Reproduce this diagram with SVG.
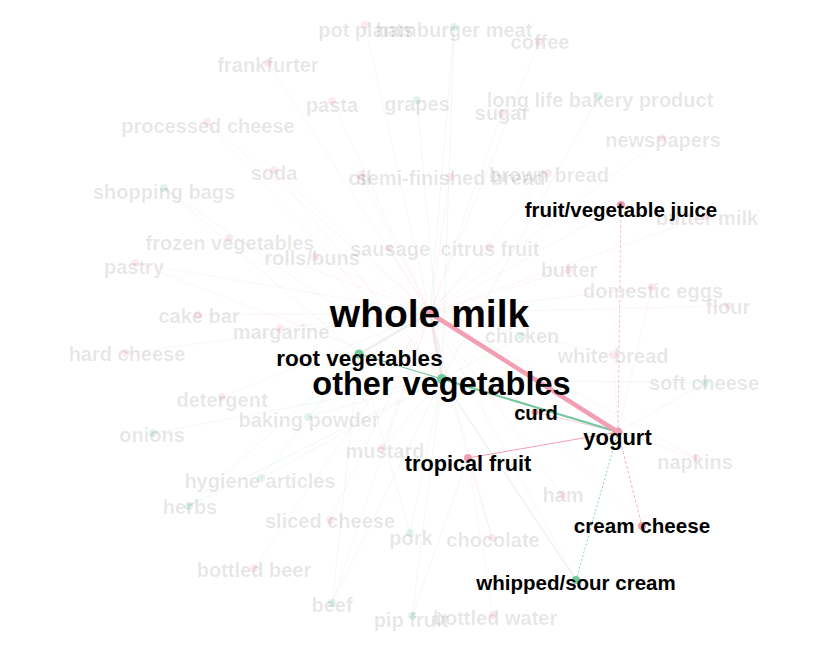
<svg xmlns="http://www.w3.org/2000/svg" width="833" height="658" viewBox="0 0 833 658">
<style>
.f{font-family:"Liberation Sans",Arial,sans-serif;font-weight:bold;font-size:20px;fill:#000;fill-opacity:0.1;text-anchor:middle}
.b{font-family:"Liberation Sans",Arial,sans-serif;font-weight:bold;fill:#000;text-anchor:middle}
.dp{fill:#f29fb3}
.dg{fill:#72c89e}
.fd{opacity:0.2}
.ep{stroke:#f29fb3;stroke-opacity:0.16;stroke-width:0.7;fill:none}
.eg{stroke:#72c89e;stroke-opacity:0.16;stroke-width:0.7;fill:none}
</style>
<rect width="833" height="658" fill="#fff"/>
<g id="edges">
<path class="ep" d="M365,25L430,313M539,42L430,313M268,63L430,313M332,101L430,313M502,113L430,313M207,122L430,313M662,138L430,313M274,170L430,313M361,175L430,313M450,177L430,313M548,173L430,313M706,216L430,313M229,238L430,313M315,257L430,313M389,248L430,313M490,247L430,313M135,263L430,313M569,270L430,313M652,287L430,313M728,306L430,313M198,315L430,313M280,328L430,313M126,353L430,313M613,355L430,313M222,397L430,313M696,458L430,313M382,448L430,313M562,495L430,313M330,520L430,313M492,538L430,313M254,568L430,313M493,615L468,458M332,603L430,313M621,205L430,313M642,526L430,313M576,580L430,313M468,458L430,313M274,170L442,379M207,122L442,379M135,263L442,379M315,257L442,379M492,538L468,458M696,458L618,432M613,355L618,432M652,287L618,432"/>
<path class="eg" d="M454,27L430,313M454,27L442,379M417,100L442,379M599,96L442,379M164,188L442,379M522,336L442,379M705,383L442,379M308,417L442,379M153,433L442,379M261,478L442,379M189,506L442,379M410,533L442,379M332,603L359,354M332,603L442,379M412,616L442,379M412,616L468,458M261,478L359,354M189,506L359,354M164,188L359,354M382,448L442,379M410,533L359,354M705,383L618,432"/>
<line x1="430" y1="313" x2="442" y2="379" stroke="#d9b8bf" stroke-opacity="0.35" stroke-width="3"/>
<line x1="359" y1="354" x2="430" y2="313" stroke="#c8d8cf" stroke-opacity="0.35" stroke-width="2.5"/>
<line x1="442" y1="379" x2="576" y2="580" stroke="#72c89e" stroke-opacity="0.4" stroke-width="0.7"/>
<line x1="468" y1="458" x2="618" y2="432" stroke="#f29fb3" stroke-width="1"/>
<line x1="535" y1="412" x2="618" y2="432" stroke="#f29fb3" stroke-opacity="0.7" stroke-width="0.8"/>
<line x1="621" y1="205" x2="618" y2="432" stroke="#f29fb3" stroke-opacity="0.8" stroke-width="0.8" stroke-dasharray="3,2"/>
<line x1="618" y1="432" x2="642" y2="526" stroke="#f29fb3" stroke-width="0.8" stroke-dasharray="3,2"/>
<line x1="618" y1="432" x2="576" y2="580" stroke="#72c89e" stroke-width="0.8" stroke-dasharray="2,2"/>
<line x1="359" y1="354" x2="442" y2="379" stroke="#72c89e" stroke-width="1.2"/>
<line x1="442" y1="379" x2="618" y2="432" stroke="#72c89e" stroke-width="2"/>
<line x1="430" y1="313" x2="618" y2="432" stroke="#f29fb3" stroke-width="4.5"/>
</g>
<g id="n-pot-plants"><circle class="dp fd" cx="365" cy="25" r="4"/><text class="f" x="366" y="37">pot plants</text></g>
<g id="n-hamburger-meat"><circle class="dg fd" cx="454" cy="27" r="4"/><text class="f" x="454" y="37">hamburger meat</text></g>
<g id="n-coffee"><circle class="dp fd" cx="539" cy="42" r="4"/><text class="f" x="540" y="49">coffee</text></g>
<g id="n-frankfurter"><circle class="dp fd" cx="268" cy="63" r="4"/><text class="f" x="268" y="72">frankfurter</text></g>
<g id="n-pasta"><circle class="dp fd" cx="332" cy="101" r="4"/><text class="f" x="332" y="112">pasta</text></g>
<g id="n-grapes"><circle class="dg fd" cx="417" cy="100" r="4"/><text class="f" x="417" y="111">grapes</text></g>
<g id="n-long-life"><circle class="dg fd" cx="599" cy="96" r="4"/><text class="f" x="600" y="107">long life bakery product</text></g>
<g id="n-sugar"><circle class="dp fd" cx="502" cy="113" r="4"/><text class="f" x="502" y="120">sugar</text></g>
<g id="n-processed-cheese"><circle class="dp fd" cx="207" cy="122" r="4"/><text class="f" x="208" y="133">processed cheese</text></g>
<g id="n-newspapers"><circle class="dp fd" cx="662" cy="138" r="4"/><text class="f" x="663" y="147">newspapers</text></g>
<g id="n-soda"><circle class="dp fd" cx="274" cy="170" r="4"/><text class="f" x="274" y="180">soda</text></g>
<g id="n-oil"><circle class="dp fd" cx="361" cy="175" r="4"/><text class="f" x="360" y="185">oil</text></g>
<g id="n-semi-finished-bread"><circle class="dp fd" cx="450" cy="177" r="4"/><text class="f" x="451" y="185">semi-finished bread</text></g>
<g id="n-brown-bread"><circle class="dp fd" cx="548" cy="173" r="4"/><text class="f" x="549" y="182">brown bread</text></g>
<g id="n-shopping-bags"><circle class="dg fd" cx="164" cy="188" r="4"/><text class="f" x="164" y="199">shopping bags</text></g>
<g id="n-butter-milk"><circle class="dp fd" cx="706" cy="216" r="4"/><text class="f" x="707" y="225">butter milk</text></g>
<g id="n-frozen-vegetables"><circle class="dp fd" cx="229" cy="238" r="4"/><text class="f" x="230" y="250">frozen vegetables</text></g>
<g id="n-rolls-buns"><circle class="dp fd" cx="315" cy="257" r="4"/><text class="f" x="312" y="265">rolls/buns</text></g>
<g id="n-sausage"><circle class="dp fd" cx="389" cy="248" r="4"/><text class="f" x="390" y="256">sausage</text></g>
<g id="n-citrus-fruit"><circle class="dp fd" cx="490" cy="247" r="4"/><text class="f" x="490" y="256">citrus fruit</text></g>
<g id="n-pastry"><circle class="dp fd" cx="135" cy="263" r="4"/><text class="f" x="134" y="274">pastry</text></g>
<g id="n-butter"><circle class="dp fd" cx="569" cy="270" r="4"/><text class="f" x="569" y="277">butter</text></g>
<g id="n-domestic-eggs"><circle class="dp fd" cx="652" cy="287" r="4"/><text class="f" x="653" y="298">domestic eggs</text></g>
<g id="n-flour"><circle class="dp fd" cx="728" cy="306" r="4"/><text class="f" x="728" y="314">flour</text></g>
<g id="n-cake-bar"><circle class="dp fd" cx="198" cy="315" r="4"/><text class="f" x="199" y="323">cake bar</text></g>
<g id="n-margarine"><circle class="dp fd" cx="280" cy="328" r="4"/><text class="f" x="281" y="339">margarine</text></g>
<g id="n-chicken"><circle class="dg fd" cx="522" cy="336" r="4"/><text class="f" x="522" y="343">chicken</text></g>
<g id="n-hard-cheese"><circle class="dp fd" cx="126" cy="353" r="4"/><text class="f" x="127" y="361">hard cheese</text></g>
<g id="n-white-bread"><circle class="dp fd" cx="613" cy="355" r="4"/><text class="f" x="613" y="363">white bread</text></g>
<g id="n-soft-cheese"><circle class="dg fd" cx="705" cy="383" r="4"/><text class="f" x="704" y="390">soft cheese</text></g>
<g id="n-detergent"><circle class="dp fd" cx="222" cy="397" r="4"/><text class="f" x="222" y="407">detergent</text></g>
<g id="n-baking-powder"><circle class="dg fd" cx="308" cy="417" r="4"/><text class="f" x="309" y="427">baking powder</text></g>
<g id="n-onions"><circle class="dg fd" cx="153" cy="433" r="4"/><text class="f" x="152" y="442">onions</text></g>
<g id="n-napkins"><circle class="dp fd" cx="696" cy="458" r="4"/><text class="f" x="695" y="469">napkins</text></g>
<g id="n-mustard"><circle class="dp fd" cx="382" cy="448" r="4"/><text class="f" x="385" y="458">mustard</text></g>
<g id="n-hygiene-articles"><circle class="dg fd" cx="261" cy="478" r="4"/><text class="f" x="260" y="488">hygiene articles</text></g>
<g id="n-herbs"><circle class="dg fd" cx="189" cy="506" r="4"/><text class="f" x="190" y="514">herbs</text></g>
<g id="n-ham"><circle class="dp fd" cx="562" cy="495" r="4"/><text class="f" x="563" y="502">ham</text></g>
<g id="n-sliced-cheese"><circle class="dp fd" cx="330" cy="520" r="4"/><text class="f" x="330" y="528">sliced cheese</text></g>
<g id="n-pork"><circle class="dg fd" cx="410" cy="533" r="4"/><text class="f" x="411" y="545">pork</text></g>
<g id="n-chocolate"><circle class="dp fd" cx="492" cy="538" r="4"/><text class="f" x="493" y="547">chocolate</text></g>
<g id="n-bottled-beer"><circle class="dp fd" cx="254" cy="568" r="4"/><text class="f" x="254" y="577">bottled beer</text></g>
<g id="n-beef"><circle class="dg fd" cx="332" cy="603" r="4"/><text class="f" x="332" y="612">beef</text></g>
<g id="n-pip-fruit"><circle class="dg fd" cx="412" cy="616" r="4"/><text class="f" x="411" y="627">pip fruit</text></g>
<g id="n-bottled-water"><circle class="dp fd" cx="493" cy="615" r="4"/><text class="f" x="495" y="625">bottled water</text></g>
<g id="n-fruit-vegetable-juice"><circle class="dp" cx="621" cy="205" r="4"/><text class="b" x="621" y="217" font-size="20.5">fruit/vegetable juice</text></g>
<g id="n-root-vegetables"><circle class="dg" cx="359" cy="354" r="4.5"/><text class="b" x="359.5" y="366" font-size="22.5">root vegetables</text></g>
<g id="n-curd"><circle class="dp" cx="535" cy="412" r="3.5"/><text class="b" x="536" y="420" font-size="20.2">curd</text></g>
<g id="n-tropical-fruit"><circle class="dp" cx="468" cy="458" r="4"/><text class="b" x="468" y="471" font-size="21.7">tropical fruit</text></g>
<g id="n-yogurt"><circle class="dp" cx="618" cy="432" r="4.5"/><text class="b" x="617.5" y="445" font-size="22">yogurt</text></g>
<g id="n-cream-cheese"><circle class="dp" cx="642" cy="526" r="4"/><text class="b" x="642" y="533" font-size="20.6">cream cheese</text></g>
<g id="n-whipped-sour-cream"><circle class="dg" cx="576" cy="580" r="4"/><text class="b" x="576" y="590" font-size="20.5">whipped/sour cream</text></g>
<g id="n-whole-milk"><circle class="dp" cx="430" cy="313" r="5"/><text class="b" x="429.5" y="327" font-size="39">whole milk</text></g>
<g id="n-other-vegetables"><circle class="dg" cx="442" cy="379" r="5"/><text class="b" x="441.5" y="395" font-size="32.5">other vegetables</text></g>
</svg>
